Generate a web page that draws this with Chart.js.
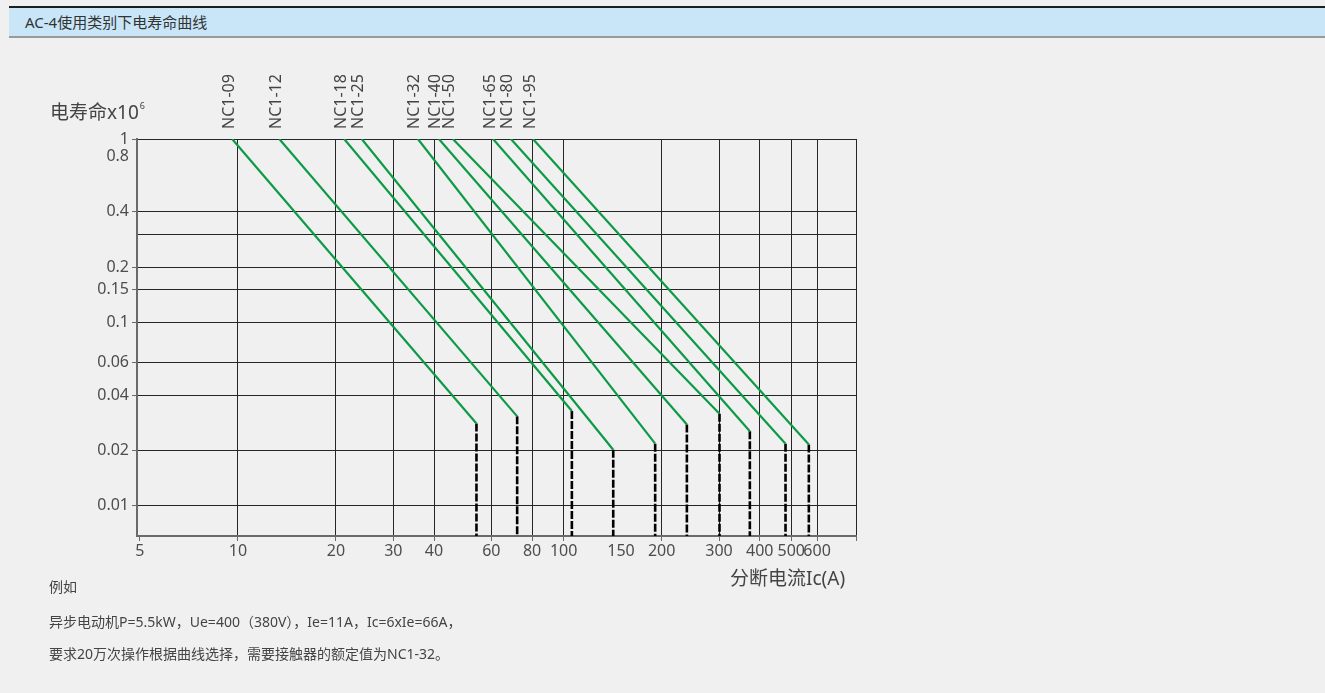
<!DOCTYPE html>
<html>
<head>
<meta charset="utf-8">
<script src="https://cdn.jsdelivr.net/npm/chart.js@4/dist/chart.umd.min.js"></script>
<style>
  html, body { margin:0; padding:0; }
  body { width:1325px; height:693px; overflow:hidden; background:#f0f0f0; position:relative;
         font-family:'Noto Sans','Noto Sans CJK SC',sans-serif; color:#444; }
  #chart { position:absolute; left:0; top:0; }
  .txt { position:absolute; white-space:nowrap; }
  #hdr { position:absolute; left:9px; top:6px; right:0; height:28px; background:#c8e6f8;
         border-top:2px solid #1e1e1e; border-bottom:2px solid #9a9a9a;
         font:15px 'Noto Sans','Noto Sans CJK SC',sans-serif; color:#333; line-height:28px; padding-left:16px; }
</style>
</head>
<body>
<div id="hdr">AC-4使用类别下电寿命曲线</div>
<canvas id="chart" width="1325" height="693"></canvas>
<div class="txt" style="left:50px;top:99px;font-size:19px;line-height:26px;">电寿命x10<span style="font-size:9px;position:relative;top:-10px;margin-left:1px;">6</span></div>
<div class="txt" style="left:730px;top:565px;font-size:19px;line-height:26px;">分断电流Ic(A)</div>
<div class="txt" style="left:49px;top:577px;font-size:14px;line-height:20px;">例如</div>
<div class="txt" style="left:49px;top:612px;font-size:14px;line-height:20px;">异步电动机P=5.5kW，Ue=400（380V），Ie=11A，Ic=6xIe=66A，</div>
<div class="txt" style="left:49px;top:644px;font-size:14px;line-height:20px;">要求20万次操作根据曲线选择，需要接触器的额定值为NC1-32。</div>
<script>
// ---- data ----
const MODELS     = ['NC1-09','NC1-12','NC1-18','NC1-25','NC1-32','NC1-40','NC1-50','NC1-65','NC1-80','NC1-95'];
const START_LIFE = 1;                                   // electrical life x10^6 at line start
const START_IC   = [9.6, 13.4, 21.2, 24.0, 35.7, 41.4, 45.7, 60.7, 68.9, 80.5];   // breaking current at life = 1
const END_IC     = [54, 72, 106, 142, 191, 239, 301, 373, 480, 566];             // breaking current at line end
const END_LIFE   = [0.028, 0.0306, 0.0327, 0.0201, 0.0217, 0.0276, 0.0316, 0.0254, 0.0217, 0.0215];
const X_TICKS    = [5,10,20,30,40,60,80,100,150,200,300,400,500,600];
const Y_TICKS    = [1,0.8,0.4,0.3,0.2,0.15,0.1,0.06,0.04,0.02,0.01];
const Y_LABELS   = ['1','0.8','0.4','','0.2','0.15','0.1','0.06','0.04','0.02','0.01'];
const X_MIN = 4.9, X_MAX = 790, Y_MIN = 0.0068, Y_MAX = 1;

// ---- style ----
const GREEN = '#0d9a46';
const GRID = '#262626';
const AXIS = '#6a6a6a';
const TICK_TXT = '#4d4d4d';
const X_NO_GRID = [5, 150];
const X_NO_TICK = [150];
const Y_NO_GRID = [0.8];
const Y_NO_TICK = [0.8, 0.3];
const FONT = "'Noto Sans','Noto Sans CJK SC',sans-serif";

Chart.defaults.font.family = FONT;

const datasets = [];
MODELS.forEach((m, i) => {
  datasets.push({
    label: m,
    data: [{x: START_IC[i], y: START_LIFE}, {x: END_IC[i], y: END_LIFE[i]}],
    borderColor: GREEN, borderWidth: 2.2, pointRadius: 0, fill: false, tension: 0, order: 1
  });
  datasets.push({
    label: m + ' limit',
    data: [{x: END_IC[i], y: END_LIFE[i]}, {x: END_IC[i], y: Y_MIN}],
    borderColor: '#000', borderWidth: 2.6, borderDash: [8, 2], pointRadius: 0, fill: false, order: 2
  });
});

const ncLabels = {
  id: 'ncLabels',
  afterDraw(chart) {
    const xs = chart.scales.x, ys = chart.scales.y, ctx = chart.ctx;
    ctx.save();
    ctx.font = '16px ' + FONT;
    ctx.fillStyle = '#444';
    ctx.textAlign = 'left';
    ctx.textBaseline = 'middle';
    MODELS.forEach((m, i) => {
      const px = xs.getPixelForValue(START_IC[i]) - 3;
      const py = ys.getPixelForValue(START_LIFE) - 10;
      ctx.save();
      ctx.translate(px, py);
      ctx.rotate(-Math.PI / 2);
      ctx.fillText(m, 0, 0);
      ctx.restore();
    });
    ctx.restore();
  }
};

new Chart(document.getElementById('chart'), {
  type: 'line',
  data: { datasets },
  options: {
    responsive: false,
    animation: false,
    layout: { padding: { left: 0, top: 139, right: 469, bottom: 127 } },
    plugins: { legend: { display: false }, tooltip: { enabled: false } },
    scales: {
      x: {
        type: 'logarithmic', position: 'bottom', min: X_MIN, max: X_MAX,
        afterBuildTicks: s => { s.ticks = X_TICKS.concat([X_MAX]).map(v => ({ value: v })); },
        afterFit: s => { s.height = 30; },
        ticks: {
          autoSkip: false, maxRotation: 0, minRotation: 0, padding: 1,
          color: TICK_TXT, font: { size: 16 },
          callback: v => X_TICKS.includes(v) ? String(v) : ''
        },
        grid: {
          lineWidth: 1, tickLength: 5,
          color: c => (c.tick && X_NO_GRID.includes(c.tick.value)) ? 'rgba(0,0,0,0)' : GRID,
          tickColor: c => (c.tick && X_NO_TICK.includes(c.tick.value)) ? 'rgba(0,0,0,0)' : AXIS
        },
        border: { display: true, color: AXIS, width: 2 }
      },
      y: {
        type: 'logarithmic', position: 'left', min: Y_MIN, max: Y_MAX,
        afterBuildTicks: s => { s.ticks = Y_TICKS.map(v => ({ value: v })); },
        afterFit: s => { s.width = 137; },
        ticks: {
          autoSkip: false, padding: 3, color: TICK_TXT, font: { size: 16 },
          callback: v => { const k = Y_TICKS.indexOf(v); return k >= 0 ? Y_LABELS[k] : ''; }
        },
        grid: {
          lineWidth: 1, tickLength: 5,
          color: c => (c.tick && Y_NO_GRID.includes(c.tick.value)) ? 'rgba(0,0,0,0)' : GRID,
          tickColor: c => (c.tick && Y_NO_TICK.includes(c.tick.value)) ? 'rgba(0,0,0,0)' : AXIS
        },
        border: { display: true, color: AXIS, width: 2 }
      }
    }
  },
  plugins: [ncLabels]
});
</script>
</body>
</html>
